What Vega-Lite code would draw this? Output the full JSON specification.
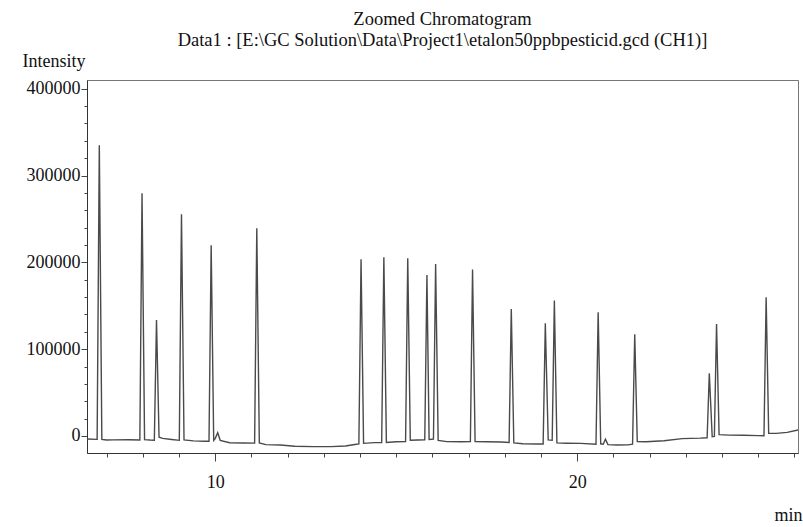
{
  "$schema": "https://vega.github.io/schema/vega-lite/v6.json",
  "width": 711,
  "height": 373,
  "autosize": {"type": "none"},
  "padding": {"left": 87, "top": 80, "right": 5, "bottom": 74},
  "background": "white",
  "title": {
    "text": ["Zoomed Chromatogram", "Data1 : [E:\\GC Solution\\Data\\Project1\\etalon50ppbpesticid.gcd (CH1)]"],
    "anchor": "middle",
    "font": "Liberation Serif",
    "fontSize": 18.5,
    "fontWeight": "normal",
    "lineHeight": 21,
    "color": "#111",
    "offset": 3
  },
  "data": {
    "values": [
      {"t": 6.46, "v": -3500}, {"t": 6.74, "v": -3900}, {"t": 6.80, "v": 334900}, {"t": 6.87, "v": -4000},
      {"t": 7.00, "v": -4600}, {"t": 7.20, "v": -4500}, {"t": 7.60, "v": -4400}, {"t": 7.92, "v": -4600},
      {"t": 7.98, "v": 279600}, {"t": 8.05, "v": -4200}, {"t": 8.20, "v": -4600}, {"t": 8.32, "v": -4800},
      {"t": 8.38, "v": 133600}, {"t": 8.45, "v": -1500}, {"t": 8.55, "v": -2800}, {"t": 8.80, "v": -4000},
      {"t": 9.01, "v": -5000}, {"t": 9.07, "v": 255400}, {"t": 9.14, "v": -4500}, {"t": 9.40, "v": -5600},
      {"t": 9.70, "v": -6000}, {"t": 9.83, "v": -6000}, {"t": 9.89, "v": 219700}, {"t": 9.96, "v": -5000},
      {"t": 10.00, "v": -3000}, {"t": 10.07, "v": 3800}, {"t": 10.14, "v": -5000}, {"t": 10.40, "v": -7800},
      {"t": 10.80, "v": -8000}, {"t": 11.09, "v": -8200}, {"t": 11.15, "v": 239300}, {"t": 11.22, "v": -8000},
      {"t": 11.40, "v": -10000}, {"t": 11.80, "v": -10400}, {"t": 12.20, "v": -11800}, {"t": 12.70, "v": -12300},
      {"t": 13.20, "v": -12300}, {"t": 13.60, "v": -11500}, {"t": 13.90, "v": -9500}, {"t": 13.97, "v": -9200},
      {"t": 14.03, "v": 203500}, {"t": 14.10, "v": -8500}, {"t": 14.40, "v": -7700}, {"t": 14.60, "v": -7700},
      {"t": 14.66, "v": 205800}, {"t": 14.73, "v": -7500}, {"t": 15.00, "v": -6600}, {"t": 15.26, "v": -6500},
      {"t": 15.32, "v": 204700}, {"t": 15.39, "v": -5000}, {"t": 15.60, "v": -4600}, {"t": 15.79, "v": -4500},
      {"t": 15.85, "v": 185500}, {"t": 15.91, "v": -4000}, {"t": 15.97, "v": -3800}, {"t": 16.03, "v": -3500},
      {"t": 16.09, "v": 198100}, {"t": 16.16, "v": -5000}, {"t": 16.40, "v": -6500}, {"t": 16.80, "v": -6600},
      {"t": 17.05, "v": -6500}, {"t": 17.11, "v": 191600}, {"t": 17.18, "v": -6500}, {"t": 17.50, "v": -6600},
      {"t": 17.90, "v": -7000}, {"t": 18.12, "v": -7500}, {"t": 18.18, "v": 146300}, {"t": 18.25, "v": -8000},
      {"t": 18.50, "v": -9000}, {"t": 18.90, "v": -9200}, {"t": 19.06, "v": -9200}, {"t": 19.12, "v": 129800},
      {"t": 19.20, "v": -4600}, {"t": 19.31, "v": -5000}, {"t": 19.37, "v": 155900}, {"t": 19.44, "v": -8000},
      {"t": 19.70, "v": -8300}, {"t": 20.10, "v": -8500}, {"t": 20.52, "v": -9500}, {"t": 20.58, "v": 142500},
      {"t": 20.65, "v": -9000}, {"t": 20.72, "v": -9500}, {"t": 20.78, "v": -3800}, {"t": 20.85, "v": -10000},
      {"t": 21.10, "v": -10400}, {"t": 21.40, "v": -10300}, {"t": 21.53, "v": -9500}, {"t": 21.59, "v": 117200},
      {"t": 21.66, "v": -6500}, {"t": 21.90, "v": -6600}, {"t": 22.40, "v": -5500}, {"t": 22.90, "v": -3000},
      {"t": 23.40, "v": -2500}, {"t": 23.59, "v": -2000}, {"t": 23.65, "v": 72200}, {"t": 23.73, "v": -800},
      {"t": 23.79, "v": -500}, {"t": 23.85, "v": 129000}, {"t": 23.92, "v": 1500}, {"t": 24.20, "v": 1000},
      {"t": 24.60, "v": 800}, {"t": 25.00, "v": 400}, {"t": 25.16, "v": 300}, {"t": 25.22, "v": 159800},
      {"t": 25.29, "v": 3000}, {"t": 25.50, "v": 3000}, {"t": 25.80, "v": 4200}, {"t": 26.10, "v": 6900}
    ]
  },
  "layer": [
    {
      "mark": {"type": "line", "color": "#4a4a4a", "strokeWidth": 1.4},
      "encoding": {
        "x": {
          "field": "t", "type": "quantitative",
          "scale": {"domain": [6.46, 26.1], "nice": false, "zero": false},
          "axis": {
            "orient": "bottom", "values": [10, 20], "tickSize": 8, "labelPadding": 12,
            "title": "min", "titleX": 715, "titleY": 67, "titleAlign": "right", "titleBaseline": "alphabetic",
            "titleAnchor": null
          }
        },
        "y": {
          "field": "v", "type": "quantitative",
          "scale": {"domain": [-19600, 410000], "nice": false, "zero": false},
          "axis": {
            "orient": "left", "values": [0, 100000, 200000, 300000, 400000], "format": "d",
            "tickSize": 6, "labelPadding": 1,
            "title": "Intensity", "titleAngle": 0, "titleAlign": "left", "titleBaseline": "alphabetic",
            "titleX": -65, "titleY": -14, "titleAnchor": null
          }
        }
      }
    },
    {
      "mark": {"type": "line", "opacity": 0},
      "encoding": {
        "x": {
          "field": "t", "type": "quantitative",
          "axis": {
            "orient": "bottom", "values": [7, 8, 9, 11, 12, 13, 14, 15, 16, 17, 18, 19, 21, 22, 23, 24, 25, 26],
            "tickSize": 4, "labels": false, "domain": false, "title": null
          }
        },
        "y": {
          "field": "v", "type": "quantitative",
          "axis": {
            "orient": "left",
            "values": [20000, 40000, 60000, 80000, 120000, 140000, 160000, 180000, 220000, 240000, 260000, 280000, 320000, 340000, 360000, 380000],
            "tickSize": 3, "labels": false, "domain": false, "title": null
          }
        }
      }
    }
  ],
  "resolve": {"axis": {"x": "independent", "y": "independent"}},
  "config": {
    "view": {"stroke": "#777", "strokeWidth": 1},
    "axis": {
      "grid": false,
      "domainColor": "#333",
      "tickColor": "#444",
      "labelFont": "Liberation Serif",
      "labelFontSize": 18,
      "labelColor": "#111",
      "labelFlush": false,
      "labelOverlap": false,
      "titleFont": "Liberation Serif",
      "titleFontSize": 18,
      "titleFontWeight": "normal",
      "titleColor": "#111"
    }
  }
}
